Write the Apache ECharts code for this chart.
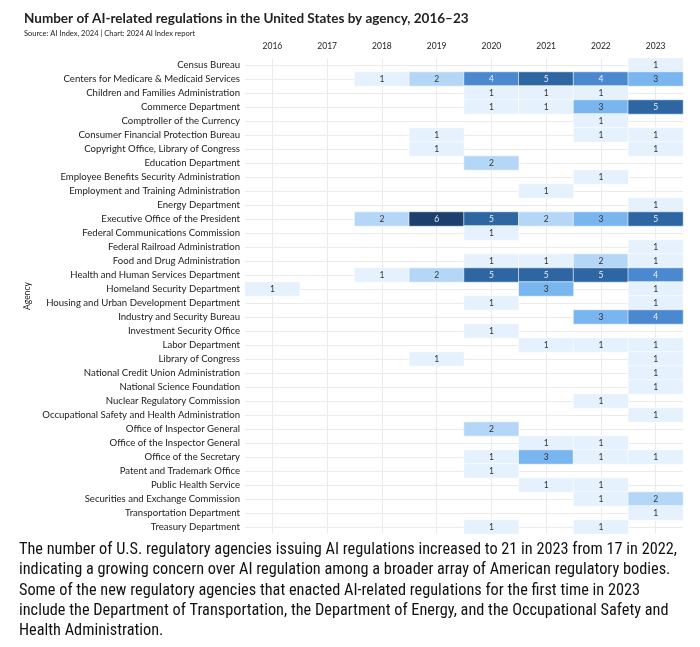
<!DOCTYPE html>
<html>
<head>
<meta charset="utf-8">
<script src="https://cdn.jsdelivr.net/npm/echarts@6/dist/echarts.min.js"></script>
<style>
  html, body { margin: 0; padding: 0; background: #fff; }
  #chart { width: 700px; height: 647px; }
</style>
</head>
<body>
<div id="chart"></div>
<script>
// ---- data ----
const years = ['2016', '2017', '2018', '2019', '2020', '2021', '2022', '2023'];
const agencies = [
  'Census Bureau',
  'Centers for Medicare & Medicaid Services',
  'Children and Families Administration',
  'Commerce Department',
  'Comptroller of the Currency',
  'Consumer Financial Protection Bureau',
  'Copyright Office, Library of Congress',
  'Education Department',
  'Employee Benefits Security Administration',
  'Employment and Training Administration',
  'Energy Department',
  'Executive Office of the President',
  'Federal Communications Commission',
  'Federal Railroad Administration',
  'Food and Drug Administration',
  'Health and Human Services Department',
  'Homeland Security Department',
  'Housing and Urban Development Department',
  'Industry and Security Bureau',
  'Investment Security Office',
  'Labor Department',
  'Library of Congress',
  'National Credit Union Administration',
  'National Science Foundation',
  'Nuclear Regulatory Commission',
  'Occupational Safety and Health Administration',
  'Office of Inspector General',
  'Office of the Inspector General',
  'Office of the Secretary',
  'Patent and Trademark Office',
  'Public Health Service',
  'Securities and Exchange Commission',
  'Transportation Department',
  'Treasury Department'
];
// counts per year, one entry per agency (same order as agencies); 0 = none
const counts2016 = [0,0,0,0,0,0,0,0,0,0,0,0,0,0,0,0,1,0,0,0,0,0,0,0,0,0,0,0,0,0,0,0,0,0];
const counts2017 = [0,0,0,0,0,0,0,0,0,0,0,0,0,0,0,0,0,0,0,0,0,0,0,0,0,0,0,0,0,0,0,0,0,0];
const counts2018 = [0,1,0,0,0,0,0,0,0,0,0,2,0,0,0,1,0,0,0,0,0,0,0,0,0,0,0,0,0,0,0,0,0,0];
const counts2019 = [0,2,0,0,0,1,1,0,0,0,0,6,0,0,0,2,0,0,0,0,0,1,0,0,0,0,0,0,0,0,0,0,0,0];
const counts2020 = [0,4,1,1,0,0,0,2,0,0,0,5,1,0,1,5,0,1,0,1,0,0,0,0,0,0,2,0,1,1,0,0,0,1];
const counts2021 = [0,5,1,1,0,0,0,0,0,1,0,2,0,0,1,5,3,0,0,0,1,0,0,0,0,0,0,1,3,0,1,0,0,0];
const counts2022 = [0,4,1,3,1,1,0,0,1,0,0,3,0,0,2,5,0,0,3,0,1,0,0,0,1,0,0,1,1,0,1,1,0,1];
const counts2023 = [1,3,0,5,0,1,1,0,0,0,1,5,0,1,1,4,1,1,4,0,1,1,1,1,0,1,0,0,1,0,0,2,1,0];
const countsByYear = [counts2016, counts2017, counts2018, counts2019, counts2020, counts2021, counts2022, counts2023];

const titleText = 'Number of AI-related regulations in the United States by agency, 2016–23';
const subtitleText = 'Source: AI Index, 2024 | Chart: 2024 AI Index report';
const captionLines = [
  'The number of U.S. regulatory agencies issuing AI regulations increased to 21 in 2023 from 17 in 2022,',
  'indicating a growing concern over AI regulation among a broader array of American regulatory bodies.',
  'Some of the new regulatory agencies that enacted AI-related regulations for the first time in 2023',
  'include the Department of Transportation, the Department of Energy, and the Occupational Safety and',
  'Health Administration.'
];

// ---- styling ----
const palette = { 1: '#e5f1fd', 2: '#b4d7f7', 3: '#79b5ee', 4: '#4a88cf', 5: '#2e66a3', 6: '#1c3f6d' };

const cells = [];
countsByYear.forEach((arr, xi) => {
  arr.forEach((v, yi) => {
    if (v > 0) {
      cells.push({
        value: [xi, yi, v],
        label: { color: v >= 4 ? '#e8eef6' : '#333' }
      });
    }
  });
});

const chart = echarts.init(document.getElementById('chart'), null, { renderer: 'canvas' });
const font = 'Lato, "Liberation Sans", sans-serif';
const gridLeft = 245, gridRight = 17, gridTop = 58, gridBottom = 113;
const plotW = 700 - gridLeft - gridRight;
const plotH = 647 - gridTop - gridBottom;

chart.setOption({
  animation: false,
  textStyle: { fontFamily: font },
  title: [
    {
      text: titleText,
      left: 19, top: 7,
      textStyle: { fontSize: 13.5, fontWeight: 'bold', color: '#222', fontFamily: font }
    },
    {
      text: subtitleText,
      left: 19, top: 25,
      textStyle: { fontSize: 7.5, fontWeight: 'normal', color: '#222', fontFamily: font }
    }
  ],
  grid: { left: gridLeft, right: gridRight, top: gridTop, bottom: gridBottom },
  xAxis: {
    type: 'category',
    data: years,
    position: 'top',
    axisLine: { show: false },
    axisTick: {
      show: true, alignWithLabel: true, inside: true, length: plotH,
      lineStyle: { color: '#ebebeb', width: 1 }
    },
    axisLabel: { fontSize: 8.5, color: '#222', margin: 7 },
    splitLine: { show: false }
  },
  yAxis: {
    type: 'category',
    data: agencies,
    inverse: true,
    axisLine: { show: false },
    axisTick: {
      show: true, alignWithLabel: true, inside: true, length: plotW,
      lineStyle: { color: '#ebebeb', width: 1 }
    },
    axisLabel: { fontSize: 9.6, color: '#222', margin: 5 },
    splitLine: { show: false },
    name: 'Agency',
    nameLocation: 'middle',
    nameGap: 212,
    nameRotate: 90,
    nameTextStyle: { fontSize: 8.5, color: '#222' }
  },
  visualMap: {
    show: false,
    type: 'piecewise',
    dimension: 2,
    pieces: [1, 2, 3, 4, 5, 6].map(v => ({ value: v, color: palette[v] }))
  },
  series: [
    {
      type: 'heatmap',
      z: 2,
      data: cells,
      itemStyle: { borderColor: '#fff', borderWidth: 0.6 },
      label: {
        show: true,
        fontSize: 8.5,
        fontFamily: font,
        textBorderWidth: 0,
        textShadowBlur: 0,
        formatter: p => String(p.value[2])
      },
      emphasis: { disabled: true }
    }
  ],
  graphic: [
    {
      type: 'text',
      left: 19,
      top: 540,
      style: {
        text: captionLines.join('\n'),
        font: '16.3px "Liberation Sans Narrow", "Roboto Condensed", "Open Sans", sans-serif',
        fill: '#111',
        lineHeight: 20.2
      }
    }
  ]
});
</script>
</body>
</html>
